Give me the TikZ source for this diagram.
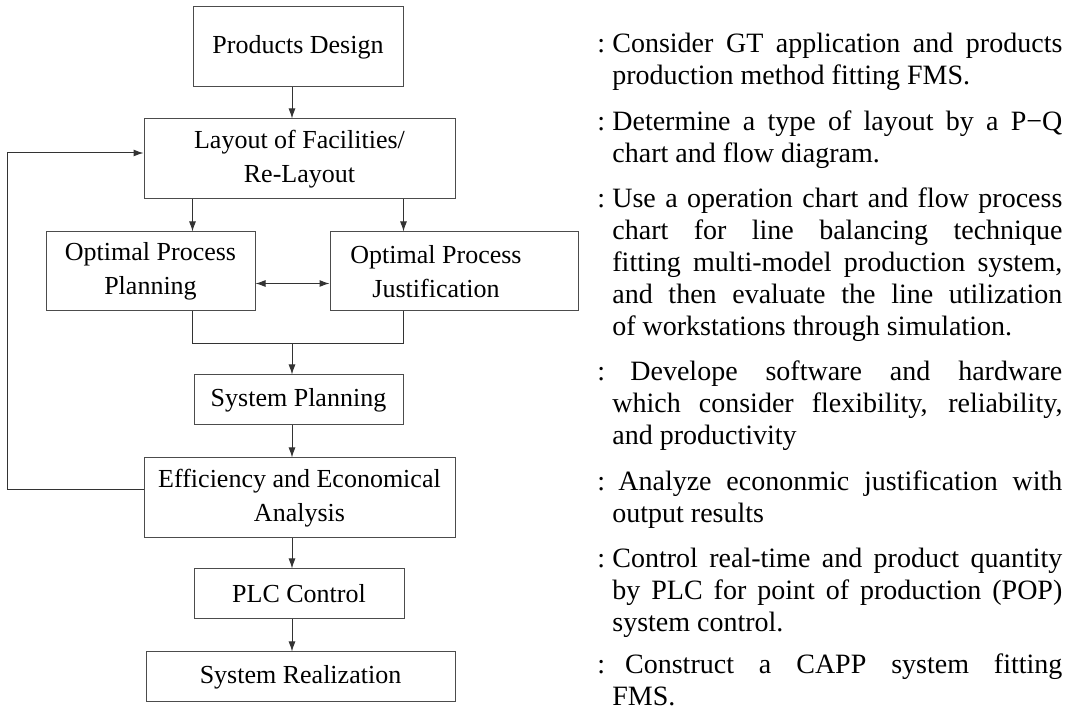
\documentclass[tikz,border=0pt]{standalone}
\usepackage{fontspec}
\setmainfont{Liberation Serif}
\usetikzlibrary{arrows.meta}
\setlength{\parindent}{0pt}
\begin{document}
\begin{tikzpicture}[x=0.5pt,y=-0.5pt,>={Latex[length=5pt,width=3.5pt]}]
            \tikzstyle{box} = [draw=black!70, line width=0.5pt, align=center, inner sep=0pt, font=\fontsize{13}{17}\selectfont]
            \tikzstyle{arr} = [->, draw=black!80, line width=0.5pt]
            \tikzstyle{desc} = [anchor=base west, inner sep=0pt, text width=232.5pt, align=justify, font=\fontsize{14}{16}\selectfont]
            \useasboundingbox (0,0) rectangle (1072,710);
            % flow chart
            \node[box, minimum width=105pt, minimum height=40pt] (design) at (298,47) {Products Design};
            \node[box, minimum width=155.5pt, minimum height=40pt] (layout) at (299.5,159) {Layout of Facilities/\\Re-Layout};
            \node[box, minimum width=104.5pt, minimum height=39.5pt] (planning) at (150.5,271.5) {Optimal Process\\Planning};
            \node[box, minimum width=124pt, minimum height=39.5pt] (justif) at (454,271.5) {Optimal Process\hspace*{18pt}\\Justification\hspace*{18pt}};
            \node[box, minimum width=104.5pt, minimum height=25pt] (sysplan) at (298.5,400) {System Planning};
            \node[box, minimum width=155.5pt, minimum height=40pt] (effic) at (299.5,498) {Efficiency and Economical\\Analysis};
            \node[box, minimum width=105pt, minimum height=25pt] (plc) at (299,594) {PLC Control};
            \node[box, minimum width=154.5pt, minimum height=25pt] (real) at (300.5,677) {System Realization};
            \coordinate (spine) at (292,344);
            \coordinate (loop) at (7,153);
            \draw[arr] (design.south -| spine) -- (layout.north -| spine);
            \draw[arr] (layout.south -| design.west) -- (planning.north -| design.west);
            \draw[arr] (layout.south -| design.east) -- (justif.north -| design.east);
            \draw[arr, <->] ([yshift=-6pt]planning.east) -- ([yshift=-6pt]justif.west);
            \draw[draw=black!80, line width=0.5pt] (planning.south -| design.west) -- (spine -| design.west) -- (spine -| design.east) -- (justif.south -| design.east);
            \draw[arr] (spine) -- (sysplan.north -| spine);
            \draw[arr] (sysplan.south -| spine) -- (effic.north -| spine);
            \draw[arr] (effic.south -| spine) -- (plc.north -| spine);
            \draw[arr] (plc.south -| spine) -- (real.north -| spine);
            \draw[arr] ([yshift=4pt]effic.west) -| (loop) -- (layout.west |- loop);
            % descriptions
            \node[desc] (d1) at (597,53) {\hangindent=7.5pt\hangafter=1 :\hspace{3.6pt}Consider GT application and products\linebreak production method fitting FMS.\par};
            \node[desc] (d2) at (597,131) {\hangindent=7.5pt\hangafter=1 :\hspace{3.6pt}Determine a type of layout by a P−Q\linebreak chart and flow diagram.\par};
            \node[desc] (d3) at (597,208) {\hangindent=7.5pt\hangafter=1 :\hspace{3.6pt}Use a operation chart and flow process\linebreak chart for line balancing technique\linebreak fitting multi-model production system,\linebreak and then evaluate the line utilization\linebreak of workstations through simulation.\par};
            \node[desc] (d4) at (597,381) {\hangindent=7.5pt\hangafter=1 :\hspace{12.6pt}Develope software and hardware\linebreak which consider flexibility, reliability,\linebreak and productivity\par};
            \node[desc] (d5) at (597,491) {\hangindent=7.5pt\hangafter=1 :\hspace{6.6pt}Analyze econonmic justification with\linebreak output results\par};
            \node[desc] (d6) at (597,568) {\hangindent=7.5pt\hangafter=1 :\hspace{3.6pt}Control real-time and product quantity\linebreak by PLC for point of production (POP)\linebreak system control.\par};
            \node[desc] (d7) at (597,674) {\hangindent=7.5pt\hangafter=1 :\hspace{10pt}Construct a CAPP system fitting\linebreak FMS.\par};
        \end{tikzpicture}
\end{document}
